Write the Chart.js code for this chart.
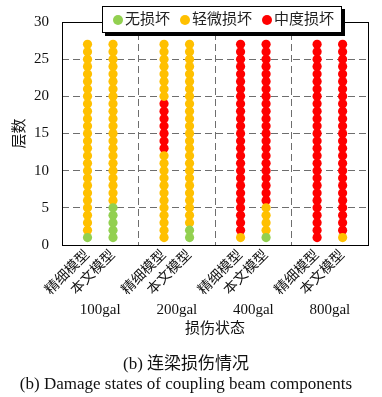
<!DOCTYPE html>
<html>
<head>
<meta charset="utf-8">
<script src="https://cdn.jsdelivr.net/npm/chart.js@4/dist/chart.umd.min.js"></script>
<style>
  html, body { margin: 0; padding: 0; background: #fff; }
  #wrap { position: relative; width: 382px; height: 397px; }
  #legend {
    position: absolute; left: 102px; top: 6px; width: 238px; height: 25px;
    border: 1px solid #000; background: #fff; box-shadow: 3px 3px 0 #000;
    font-family: "Liberation Serif", "Noto Sans CJK SC", serif; font-size: 15px; color: #222;
  }
  .li { position: absolute; top: 0; height: 25px; line-height: 25px; white-space: nowrap; }
  .dot { position: absolute; top: 8px; width: 10px; height: 10px; border-radius: 50%; }
</style>
</head>
<body>
<div id="wrap">
  <canvas id="c" width="382" height="397"></canvas>
  <div id="legend"></div>
</div>
<script>
// ---- data ----
const groups = ['100gal', '200gal', '400gal', '800gal'];
const models = ['精细模型', '本文模型'];
const states = ['无损坏', '轻微损坏', '中度损坏'];
const stateColors = ['#92D050', '#FFC000', '#FF0000'];
const floorCount = 27;
// runs per column: [stateIndex, fromFloor, toFloor]
const runs100Fine  = [[0, 1, 1], [1, 2, 27]];
const runs100Ours  = [[0, 1, 5], [1, 6, 27]];
const runs200Fine  = [[1, 1, 12], [2, 13, 19], [1, 20, 27]];
const runs200Ours  = [[0, 1, 2], [1, 3, 27]];
const runs400Fine  = [[1, 1, 1], [2, 2, 27]];
const runs400Ours  = [[0, 1, 1], [1, 2, 5], [2, 6, 27]];
const runs800Fine  = [[2, 1, 27]];
const runs800Ours  = [[1, 1, 1], [2, 2, 27]];
const columnRuns = [runs100Fine, runs100Ours, runs200Fine, runs200Ours,
                    runs400Fine, runs400Ours, runs800Fine, runs800Ours];
const yTicks = [0, 5, 10, 15, 20, 25, 30];

// ---- build ----
// each group occupies 3 units on x: columns at 1,2 ; 4,5 ; 7,8 ; 10,11
const colX = [];
groups.forEach((g, gi) => models.forEach((m, mi) => colX.push(gi * 3 + 1 + mi)));
const labelAt = {};
colX.forEach((x, i) => { labelAt[x] = models[i % 2]; });
const groupAt = {};
groups.forEach((g, gi) => { groupAt[gi * 3 + 1.5] = g; });

const dataPerState = states.map(() => []);
columnRuns.forEach((runs, ci) => {
  runs.forEach(([s, a, b]) => {
    for (let f = a; f <= b; f++) dataPerState[s].push({ x: colX[ci], y: f });
  });
});

const serif = '"Liberation Serif", "Noto Sans CJK SC", serif';

const frame = {
  id: 'frame',
  afterDraw(chart) {
    const { ctx, chartArea: a } = chart;
    ctx.save();
    ctx.strokeStyle = '#000';
    ctx.lineWidth = 1;
    ctx.strokeRect(Math.round(a.left) + 0.5, Math.round(a.top) + 0.5,
                   Math.round(a.right - a.left), Math.round(a.bottom - a.top));
    ctx.restore();
  }
};

new Chart(document.getElementById('c'), {
  type: 'scatter',
  data: {
    datasets: states.map((s, i) => ({
      label: s,
      data: dataPerState[i],
      backgroundColor: stateColors[i],
      borderColor: stateColors[i],
      borderWidth: 0,
      pointRadius: 4.6,
      pointHoverRadius: 4.6
    }))
  },
  options: {
    responsive: false,
    animation: false,
    events: [],
    devicePixelRatio: 1,
    layout: { padding: { top: 21, right: 10, left: 0, bottom: 0 } },
    plugins: {
      legend: { display: false },
      tooltip: { enabled: false },
      title: {
        display: true,
        position: 'bottom',
        text: ['(b) 连梁损伤情况', '(b) Damage states of coupling beam components'],
        color: '#111',
        font: { family: serif, size: 17, weight: 'normal', lineHeight: '20px' },
        padding: { top: 17, bottom: 2 }
      }
    },
    scales: {
      x: {
        type: 'linear', position: 'bottom', min: 0, max: 12, weight: 0,
        afterBuildTicks: (ax) => { ax.ticks = Array.from({ length: 13 }, (_, i) => ({ value: i })); },
        afterFit: (ax) => { ax.height = 55; },
        ticks: {
          autoSkip: false, minRotation: 45, maxRotation: 45, padding: 2,
          color: '#111', font: { family: serif, size: 14 },
          callback: (v) => labelAt[v] || ''
        },
        grid: {
          drawTicks: false, lineWidth: 1,
          color: (ctx) => (ctx.tick && [3, 6, 9].includes(ctx.tick.value)) ? '#6e6e6e' : 'rgba(0,0,0,0)'
        },
        border: { display: false, dash: [7, 4] }
      },
      xg: {
        type: 'linear', position: 'bottom', min: 0, max: 12, weight: 1,
        afterBuildTicks: (ax) => { ax.ticks = Object.keys(groupAt).map(v => ({ value: +v })); },
        afterFit: (ax) => { ax.height = 38; },
        ticks: {
          autoSkip: false, maxRotation: 0, minRotation: 0, padding: 1,
          color: '#111', font: { family: serif, size: 15 },
          callback: (v) => groupAt[v] || ''
        },
        grid: { display: false, drawTicks: false },
        border: { display: false },
        title: {
          display: true, text: '损伤状态', color: '#111',
          font: { family: serif, size: 15 }, padding: { top: 0, bottom: 0 }
        }
      },
      y: {
        type: 'linear', position: 'left', min: 0, max: 30,
        afterBuildTicks: (ax) => { ax.ticks = yTicks.map(v => ({ value: v })); },
        afterFit: (ax) => { ax.width = 62; },
        ticks: { padding: 13, color: '#111', font: { family: serif, size: 15 } },
        grid: {
          drawTicks: false, lineWidth: 1,
          color: (ctx) => (ctx.tick && ctx.tick.value > 0 && ctx.tick.value < 30) ? '#6e6e6e' : 'rgba(0,0,0,0)'
        },
        border: { display: false, dash: [7, 4] },
        title: {
          display: true, text: '层数', color: '#111',
          font: { family: serif, size: 15 }, padding: { top: 11, bottom: 0 }
        }
      }
    }
  },
  plugins: [frame]
});

// HTML legend overlay (real text)
const legendEl = document.getElementById('legend');
const itemPos = [[10, 22], [77, 89], [159, 171]];
states.forEach((s, i) => {
  const d = document.createElement('span');
  d.className = 'dot';
  d.style.left = itemPos[i][0] + 'px';
  d.style.background = stateColors[i];
  const t = document.createElement('span');
  t.className = 'li';
  t.style.left = itemPos[i][1] + 'px';
  t.textContent = s;
  legendEl.appendChild(d);
  legendEl.appendChild(t);
});
</script>
</body>
</html>
